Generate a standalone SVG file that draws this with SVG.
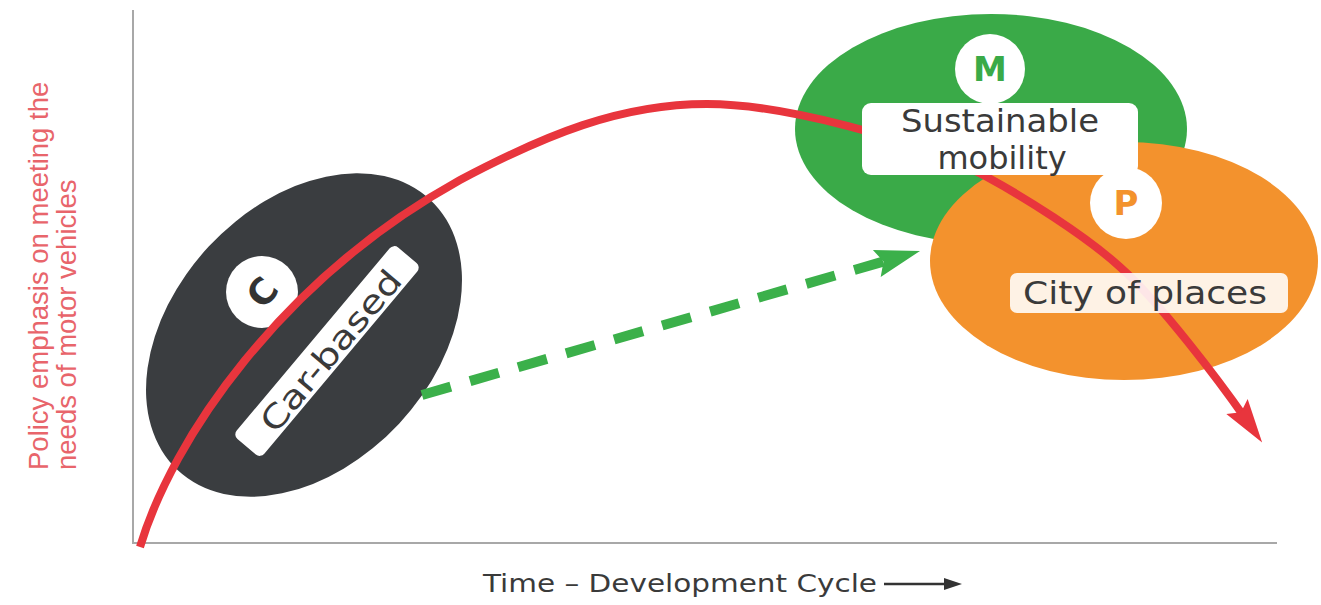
<svg xmlns="http://www.w3.org/2000/svg" width="1321" height="605" viewBox="0 0 1321 605">
<style>
.lbl{font-family:"DejaVu Sans","Liberation Sans",sans-serif;fill:#3a3a3a}
.ylbl{font-family:"Liberation Sans",Arial,sans-serif;font-size:27.5px;fill:#e8656b}
.badge{font-family:"DejaVu Sans","Liberation Sans",sans-serif;font-weight:bold;text-anchor:middle}
.axis{stroke:#a8a8a8;stroke-width:2;fill:none}
</style>
<defs>
<marker id="arrRed" markerUnits="userSpaceOnUse" markerWidth="60" markerHeight="40" viewBox="-20 -20 60 40" refX="0" refY="0" orient="auto">
<path d="M30,0 L-14,-13 L-7,0 L-14,13 Z" fill="#e8353d"/>
</marker>
<marker id="arrGreen" markerUnits="userSpaceOnUse" markerWidth="60" markerHeight="40" viewBox="-20 -20 60 40" refX="0" refY="0" orient="auto">
<path d="M30,0 L-15,-14 L-8,0 L-15,14 Z" fill="#3bb04a"/>
</marker>
<marker id="arrDark" markerUnits="userSpaceOnUse" markerWidth="20" markerHeight="14" viewBox="0 -7 20 14" refX="2" refY="0" orient="auto">
<path d="M0,-6 L18,0 L0,6 Z" fill="#333"/>
</marker>
</defs>
<rect width="1321" height="605" fill="#fff"/>
<g id="axes">
<path class="axis" d="M133,10 V543 H1277"/>
<text class="ylbl" transform="translate(48,470) rotate(-90)">Policy emphasis on meeting the</text>
<text class="ylbl" transform="translate(76,470) rotate(-90)">needs of motor vehicles</text>
<text class="lbl" x="483" y="592" font-size="24" textLength="394" lengthAdjust="spacingAndGlyphs">Time – Development Cycle</text>
<line x1="884" y1="584" x2="946" y2="584" stroke="#333" stroke-width="2.5" marker-end="url(#arrDark)"/>
</g>
<g id="node-car">
<ellipse cx="304" cy="335" rx="185" ry="130" transform="rotate(-47 304 335)" fill="#3a3d40"/>
<circle cx="262" cy="292" r="36" fill="#fff"/>
<text class="badge" x="262" y="305" font-size="36" fill="#333" transform="rotate(-50 262 292)">C</text>
<rect x="202" y="333" width="250" height="36" rx="6" fill="#fff" transform="rotate(-50 327 351)"/>
<text class="lbl" x="331" y="362" font-size="32" text-anchor="middle" textLength="200" lengthAdjust="spacingAndGlyphs" transform="rotate(-50 331 351)">Car-based</text>
</g>
<g id="node-mobility">
<ellipse cx="991" cy="129" rx="196" ry="115" fill="#3aaa48"/>
<circle cx="990" cy="69" r="35" fill="#fff"/>
<text class="badge" x="990" y="81" font-size="34" fill="#3aaa48">M</text>
</g>
<g id="node-places">
<ellipse cx="1124" cy="261" rx="194" ry="119" fill="#f3922d"/>
<circle cx="1126" cy="203" r="36" fill="#fff"/>
<text class="badge" x="1126" y="215" font-size="34" fill="#f3922d">P</text>
</g>
<g id="connectors">
<path d="M140,547 C172,440 280,280 460,180 C545,135 620,104 707,104 C780,104 917,138.5 987,177 C1022,196 1085,235 1120,267 C1160,302 1222,385 1245,418" fill="none" stroke="#e8353d" stroke-width="8" marker-end="url(#arrRed)"/>
<path d="M422,395 L891.2,259.3" fill="none" stroke="#3bb04a" stroke-width="10" stroke-dasharray="30 20" marker-end="url(#arrGreen)"/>
</g>
<g id="label-mobility">
<rect x="862" y="103" width="276" height="72" rx="9" fill="#fff"/>
<text class="lbl" x="1000" y="132" font-size="32" text-anchor="middle" textLength="198" lengthAdjust="spacingAndGlyphs">Sustainable</text>
<text class="lbl" x="1002" y="169" font-size="32" text-anchor="middle">mobility</text>
</g>
<g id="label-places">
<rect x="1010" y="273" width="278" height="40" rx="7" fill="#fff" fill-opacity="0.88"/>
<text class="lbl" x="1145" y="304" font-size="32" text-anchor="middle" textLength="244" lengthAdjust="spacingAndGlyphs">City of places</text>
</g>
</svg>
